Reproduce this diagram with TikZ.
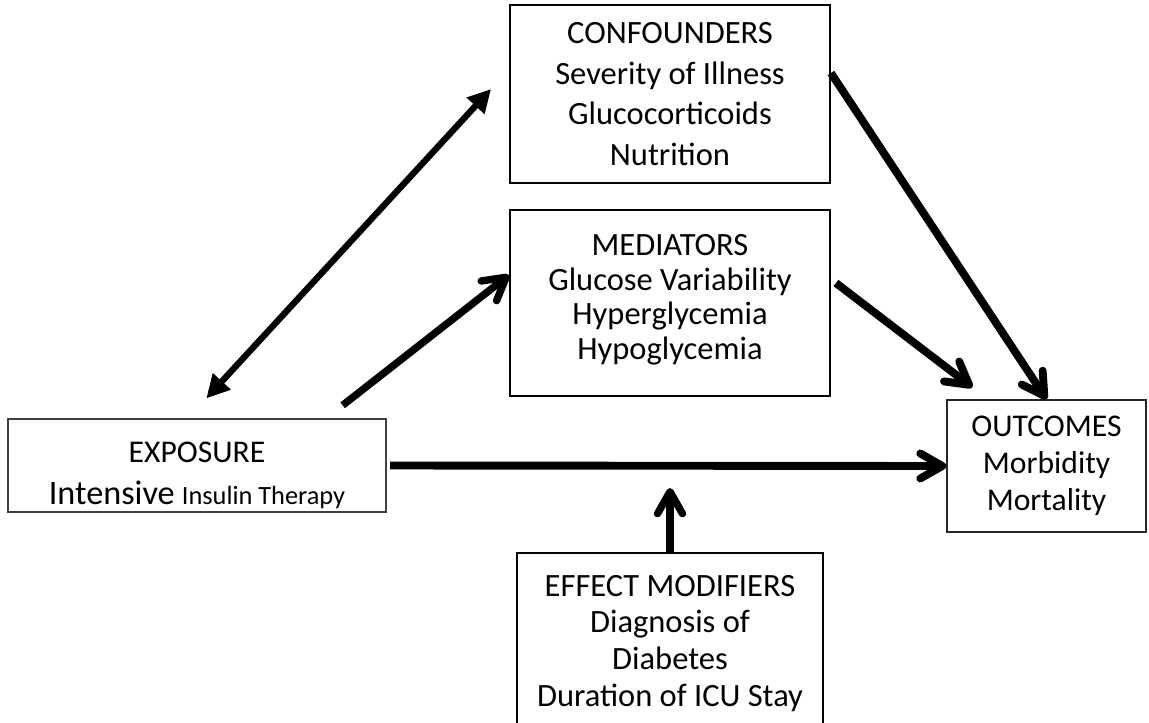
\documentclass[tikz,border=0pt]{standalone}
\usepackage{fontspec}
\setmainfont{Carlito}
\usetikzlibrary{arrows.meta,positioning,calc}

\begin{document}
\begin{tikzpicture}[x=0.02cm,y=-0.02cm,
      factor/.style={draw=black,line width=1.1pt,align=center,inner sep=0pt,
                     font=\fontsize{18.5}{23}\selectfont},
      endbox/.style={draw=black!75,line width=0.8pt,align=center,inner sep=0pt,
                     font=\fontsize{18}{21}\selectfont},
      arr/.style={-{Straight Barb[length=4.4mm,width=5mm,round]},line width=4.5pt},
      dblarr/.style={{Triangle[length=4.6mm,width=4.6mm]}-{Triangle[length=4.6mm,width=4.6mm]},line width=3.6pt}]
    \useasboundingbox (0,0) rectangle (1149,723);
    \clip (0,0) rectangle (1149,723);
    % boxes
    \node[factor,minimum width=6.4cm,minimum height=3.56cm] (conf) at (670,94)
      {CONFOUNDERS\\ Severity of Illness\\ Glucocorticoids\\ Nutrition};
    \node[factor,font=\fontsize{18.5}{19.8}\selectfont,minimum width=6.4cm,minimum height=3.72cm] (med) at (670,303)
      {MEDIATORS\\ Glucose Variability\\ Hyperglycemia\\ Hypoglycemia\rule[-7pt]{0pt}{0pt}};
    \node[endbox,minimum width=7.56cm,minimum height=1.86cm] (expo) at (197,465.5)
      {\rule{0pt}{23pt}EXPOSURE\\[3pt] {\fontsize{19.5}{21}\selectfont Intensive} {\fontsize{15}{16}\selectfont Insulin Therapy}};
    \node[endbox,draw=black!85,line width=0.9pt,minimum width=3.98cm,minimum height=2.64cm] (out) at (1046.5,466)
      {OUTCOMES\\ Morbidity\\ Mortality};
    \node[factor,font=\fontsize{18.5}{21}\selectfont,anchor=north,minimum width=6.12cm,minimum height=3.62cm] (mod) at (670,552)
      {EFFECT MODIFIERS\\ Diagnosis of\\ Diabetes\\ Duration of ICU Stay};
    % connectors
    \draw[dblarr] ($(expo.north west)+(199,-20)$) -- ($(conf.west)+(-18,-5)$);
    \draw[arr,line width=4.2pt] ($(expo.north east)+(-44,-13)$) -- ($(med.west)+(0,-28)$);
    \draw[arr,shorten <=2pt] (expo.east) -- (out.west);
    \draw[arr] ($(conf.east)+(0,-21)$) -- (out.north);
    \draw[arr] ($(med.east)+(5,-20)$) -- ($(out.north west)+(26,-12)$);
    \draw[arr,line width=4.2pt] (mod.north) -- ($(mod.north)+(0,-64)$);
  \end{tikzpicture}
\end{document}
